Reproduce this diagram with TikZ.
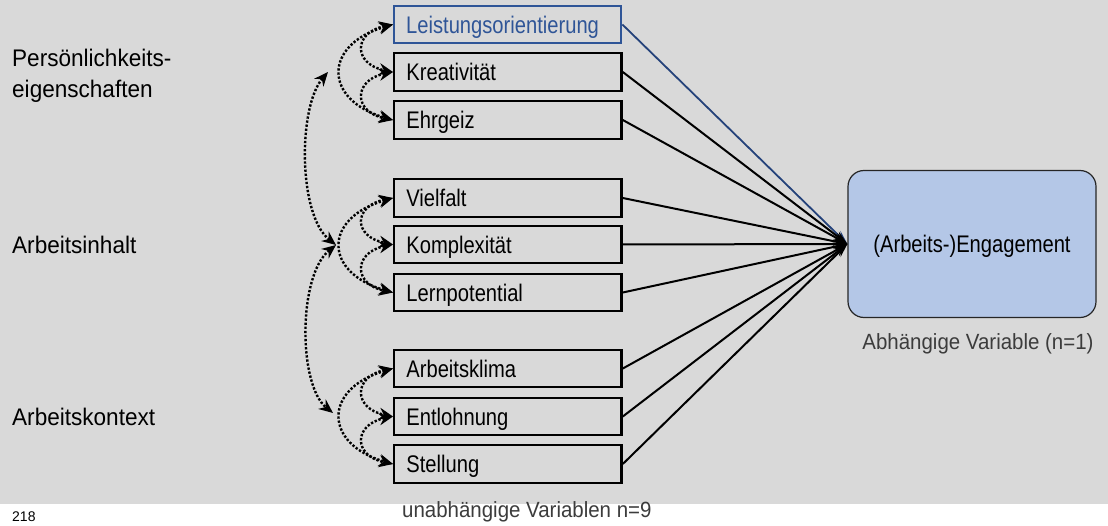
\documentclass[tikz,border=0pt]{standalone}
\usepackage{fontspec}
\setmainfont{Liberation Sans}
\newfontfamily\boxfont[FakeStretch=0.84]{Liberation Sans}
\newfontfamily\labfont[FakeStretch=0.94]{Liberation Sans}
\newfontfamily\grayfont[FakeStretch=0.93]{Liberation Sans}
\usetikzlibrary{arrows.meta}
\definecolor{bggray}{HTML}{D9D9D9}
\definecolor{boxblue}{HTML}{2F5597}
\definecolor{lineblue}{HTML}{24427A}
\definecolor{engfill}{HTML}{B4C7E7}
\definecolor{labgray}{HTML}{3C3C3C}
\tikzset{
  varbox/.style={draw=black, line width=2.4pt, anchor=west, minimum height=37.5pt,
    text width=203pt, inner xsep=12.2pt, inner ysep=0pt, align=left,
    text height=17.5pt, text depth=0pt, font=\boxfont\fontsize{24}{28}\selectfont},
  bluebox/.style={varbox, draw=boxblue, line width=2pt, text=boxblue},
  grouplabel/.style={anchor=base west, inner sep=0pt, font=\labfont\fontsize{24}{28}\selectfont},
  graylabel/.style={inner sep=0pt, text=labgray, font=\grayfont\fontsize{22}{26}\selectfont},
  conv/.style={line width=2pt, -{Stealth[length=14pt,width=9pt]}},
  convblue/.style={conv, draw=lineblue, line width=1.8pt},
  dotarr/.style={line width=2.4pt, dash pattern=on 2.3pt off 1.8pt,
    {Stealth[length=14pt,width=12pt]}-{Stealth[length=14pt,width=12pt]}}
}
\begin{document}
\begin{tikzpicture}[x=1pt,y=-1pt]
\useasboundingbox (0,0) rectangle (1108,526);
\fill[white] (0,0) rectangle (1108,526);
\fill[bggray] (0,0) rectangle (1108,504);

% group labels
\node[grouplabel] (p1) at (12,67) {Persönlichkeits-};
\node[grouplabel] (p2) at (12,98) {eigenschaften};
\node[grouplabel] (ai) at (12,254) {Arbeitsinhalt};
\node[grouplabel] (ak) at (12,425) {Arbeitskontext};

% variable boxes
\node[bluebox] (b1) at (393,24.5) {Leistungsorientierung};
\node[varbox] (b2) at (393,72) {Kreativität};
\node[varbox] (b3) at (393,120) {Ehrgeiz};
\node[varbox] (b4) at (393,198) {Vielfalt};
\node[varbox] (b5) at (393,244.5) {Komplexität};
\node[varbox] (b6) at (393,292.5) {Lernpotential};
\node[varbox] (b7) at (393,368.5) {Arbeitsklima};
\node[varbox] (b8) at (393,416.5) {Entlohnung};
\node[varbox] (b9) at (393,464) {Stellung};

% dependent variable
\node[draw=black!85, line width=1.2pt, fill=engfill, rounded corners=16pt,
  minimum width=248pt, minimum height=147pt, inner sep=0pt,
  text height=17pt, text depth=0pt,
  font=\boxfont\fontsize{24}{28}\selectfont] (e) at (972,244) {(Arbeits-)Engagement};

\node[graylabel, anchor=base] (dv) at (978,349) {Abhängige Variable (n=1)};
\node[graylabel, anchor=base west] (iv) at (402,517) {unabhängige Variablen n=9};
\node[anchor=base west, inner sep=0pt, font=\fontsize{14}{16}\selectfont] (pg) at (12,521) {218};

% converging arrows
\draw[convblue] (b1.east) -- (e.west);
\foreach \i in {2,...,9} \draw[conv] (b\i.east) -- (e.west);

% within-group correlations
\foreach \a/\b/\c in {b1/b2/b3, b4/b5/b6, b7/b8/b9} {
  \draw[dotarr] (\a.west) .. controls +(-40,8) and +(-40,-8) .. (\b.west);
  \draw[dotarr] (\b.west) .. controls +(-40,8) and +(-40,-8) .. (\c.west);
  \draw[dotarr] (\a.west) .. controls +(-70,20) and +(-70,-20) .. (\c.west);
}

% between-group correlations
\coordinate (g1) at (328,72);
\coordinate (g2) at (336,245);
\coordinate (g3) at (333,413);
\draw[dotarr] (g1) .. controls +(-30,35) and +(-38,-30) .. (g2);
\draw[dotarr] (g2) .. controls +(-38,30) and +(-35,-28) .. (g3);
\end{tikzpicture}
\end{document}
